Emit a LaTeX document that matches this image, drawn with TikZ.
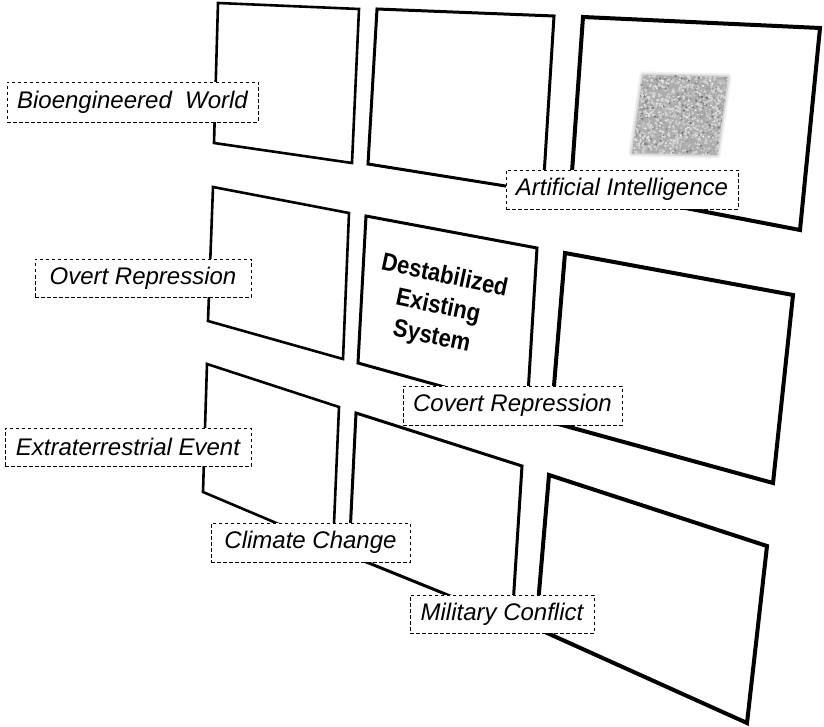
\documentclass[tikz,border=0pt]{standalone}
\usepackage{fontspec}
\setmainfont{Liberation Sans}
\begin{document}
\begin{tikzpicture}[x=1pt,y=-1pt,
  panelL/.style={draw=black,line width=2.6pt,line join=miter,fill=white},
  panelM/.style={draw=black,line width=3pt,line join=miter,fill=white},
  panelR/.style={draw=black,line width=4pt,line join=miter,fill=white},
  lab/.style={draw=black,dash pattern=on 3.5pt off 2.5pt,line width=0.9pt,fill=white,
    inner sep=0pt,font=\fontsize{24}{28}\selectfont\itshape},
  centertext/.style={align=center,rotate=-12,inner sep=0pt,
    font=\fontsize{25}{31}\selectfont\bfseries}]
\useasboundingbox (0,0) rectangle (824,727);
% panels
\draw[panelL] (218,3) -- (359,9) -- (352,163) -- (214,143) -- cycle;
\draw[panelM] (377,9) -- (554,16) -- (543,192) -- (368,164) -- cycle;
\draw[panelR] (583,17) -- (820,28) -- (800,230) -- (571,186) -- cycle;
\draw[panelL] (213,187) -- (349,213) -- (343,359) -- (208,321) -- cycle;
\draw[panelM] (366,216) -- (537,248) -- (527,410) -- (358,363) -- cycle;
\draw[panelR] (565,253) -- (793,295) -- (773,483) -- (551,422) -- cycle;
\draw[panelL] (207,364) -- (339,407) -- (333,547) -- (203,492) -- cycle;
\draw[panelM] (356,413) -- (522,466) -- (512,621) -- (349,555) -- cycle;
\draw[panelR] (549,475) -- (767,546) -- (747,723) -- (536,628) -- cycle;
% noise square
\draw[black!6,line width=7pt,line join=round,fill=black!6] (643,75) -- (728,77) -- (717,155) -- (632,153) -- cycle;
\draw[black!15,line width=3.5pt,line join=round,fill=black!15] (643,75) -- (728,77) -- (717,155) -- (632,153) -- cycle;
\fill[black!32] (643,75) -- (728,77) -- (717,155) -- (632,153) -- cycle;
\pgfmathsetseed{7}
\foreach \i in {1,...,1400}{
  \pgfmathsetmacro\u{rnd}
  \pgfmathsetmacro\v{rnd}
  \pgfmathsetmacro\g{int(8+50*rnd*rnd+10*rnd)}
  \pgfmathsetmacro\px{643+85*\u-11*\v}
  \pgfmathsetmacro\py{75+2*\u+78*\v}
  \fill[black!\g] (\px,\py) circle (1.3);
}
% center text
\node[centertext] (core) at (438,307) {\scalebox{0.88}[1]{Destabilized}\\\scalebox{0.88}[1]{Existing}\\\scalebox{0.88}[1]{System}};
% labels
\node[lab,minimum width=251pt,minimum height=40pt] (bio) at (132.5,102) {Bioengineered\ \ World};
\node[lab,minimum width=232pt,minimum height=39pt] (ai) at (622,189.5) {Artificial Intelligence};
\node[lab,minimum width=216pt,minimum height=38pt] (overt) at (143,278) {Overt Repression};
\node[lab,minimum width=219pt,minimum height=39pt] (covert) at (512.5,405.5) {Covert Repression};
\node[lab,minimum width=246pt,minimum height=38pt] (extra) at (128,447) {Extraterrestrial Event};
\node[lab,minimum width=199pt,minimum height=39pt] (climate) at (310.5,542.5) {Climate Change};
\node[lab,minimum width=184pt,minimum height=38pt] (military) at (502,614) {Military Conflict};
\end{tikzpicture}
\end{document}
